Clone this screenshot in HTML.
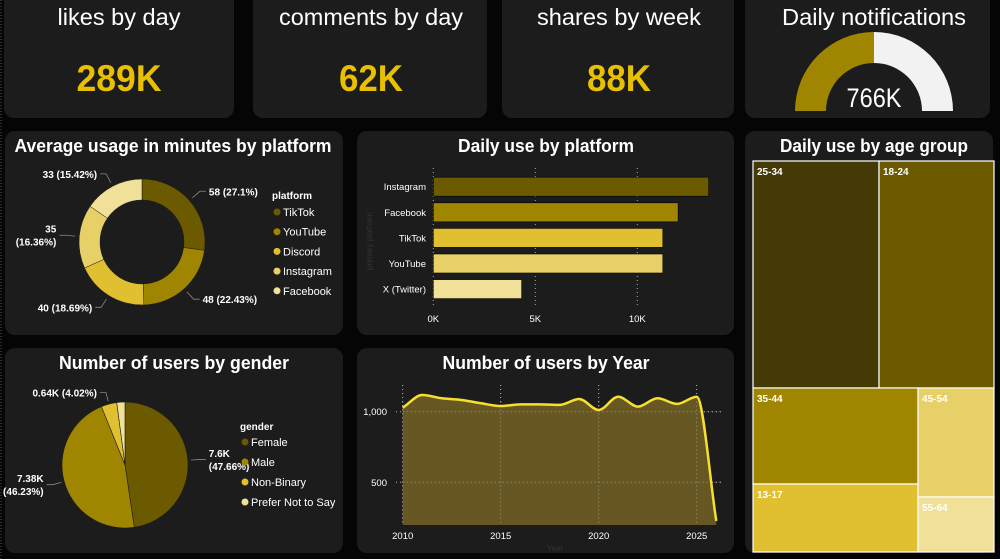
<!DOCTYPE html>
<html><head><meta charset="utf-8"><style>
body{margin:0;background:#050505;}
svg{display:block;font-family:"Liberation Sans",sans-serif;}
</style></head><body>
<svg id="s" width="1000" height="559" viewBox="0 0 1000 559">
<rect width="1000" height="559" fill="#050505"/>
<line x1="1" y1="0" x2="1" y2="559" stroke="#555" stroke-dasharray="1,2"/>
<g>
<rect x="4" y="-10" width="230" height="128" rx="10" fill="#1c1c1c"/>
<text x="119" y="25" fill="#fff" font-size="23" text-anchor="middle" textLength="123" lengthAdjust="spacingAndGlyphs">likes by day</text>
<text x="119" y="91" fill="#e8c000" font-size="37" font-weight="bold" text-anchor="middle" textLength="85" lengthAdjust="spacingAndGlyphs">289K</text></g>
<g>
<rect x="253" y="-10" width="234" height="128" rx="10" fill="#1c1c1c"/>
<text x="371" y="25" fill="#fff" font-size="23" text-anchor="middle" textLength="184" lengthAdjust="spacingAndGlyphs">comments by day</text>
<text x="371" y="91" fill="#e8c000" font-size="37" font-weight="bold" text-anchor="middle" textLength="64" lengthAdjust="spacingAndGlyphs">62K</text></g>
<g>
<rect x="502" y="-10" width="232" height="128" rx="10" fill="#1c1c1c"/>
<text x="619" y="25" fill="#fff" font-size="23" text-anchor="middle" textLength="164" lengthAdjust="spacingAndGlyphs">shares by week</text>
<text x="619" y="91" fill="#e8c000" font-size="37" font-weight="bold" text-anchor="middle" textLength="64" lengthAdjust="spacingAndGlyphs">88K</text></g>
<g>
<rect x="745" y="-10" width="245" height="128" rx="10" fill="#1c1c1c"/>
<text x="874" y="25" fill="#fff" font-size="23" text-anchor="middle" textLength="184" lengthAdjust="spacingAndGlyphs">Daily notifications</text>
<g id="gauge"></g>
<text x="874" y="107" fill="#fff" font-size="27" text-anchor="middle" textLength="55" lengthAdjust="spacingAndGlyphs">766K</text></g>

<rect x="5" y="131" width="338" height="204" rx="10" fill="#1c1c1c"/>
<text x="173" y="152" fill="#fff" font-size="18" font-weight="bold" text-anchor="middle" textLength="317" lengthAdjust="spacingAndGlyphs">Average usage in minutes by platform</text>
<g id="donut"></g>
<rect x="357" y="131" width="377" height="204" rx="10" fill="#1c1c1c"/>
<text x="546" y="152" fill="#fff" font-size="18" font-weight="bold" text-anchor="middle" textLength="176" lengthAdjust="spacingAndGlyphs">Daily use by platform</text>
<g id="bars"></g>
<rect x="745" y="131" width="248" height="422" rx="10" fill="#1c1c1c"/>
<text x="874" y="152" fill="#fff" font-size="18" font-weight="bold" text-anchor="middle" textLength="188" lengthAdjust="spacingAndGlyphs">Daily use by age group</text>
<g id="tree"></g>
<rect x="5" y="348" width="338" height="205" rx="10" fill="#1c1c1c"/>
<text x="174" y="369" fill="#fff" font-size="18" font-weight="bold" text-anchor="middle" textLength="230" lengthAdjust="spacingAndGlyphs">Number of users by gender</text>
<g id="pie"></g>
<rect x="357" y="348" width="377" height="205" rx="10" fill="#1c1c1c"/>
<text x="546" y="369" fill="#fff" font-size="18" font-weight="bold" text-anchor="middle" textLength="207" lengthAdjust="spacingAndGlyphs">Number of users by Year</text>
<g id="line"></g>
</svg>
<script>
const gaugeValue = 766, gaugeMax = 1532;
const platforms = ["TikTok","YouTube","Discord","Instagram","Facebook"];
const usageMinutes = [58,48,40,35,33];
const usageLabels = ["58 (27.1%)","48 (22.43%)","40 (18.69%)","35|(16.36%)","33 (15.42%)"];
const barCats = ["Instagram","Facebook","TikTok","YouTube","X (Twitter)"];
const barValues = [13500,12000,11250,11250,4330];
const barTicks = [0,5000,10000];
const barTickLabels = ["0K","5K","10K"];
const ageGroups = ["25-34","18-24","35-44","13-17","45-54","55-64"];
const ageValues = [28600,26100,15840,11220,8280,4180];
const genders = ["Female","Male","Non-Binary","Prefer Not to Say"];
const genderValues = [7600,7380,640,333];
const genderLabels = ["7.6K|(47.66%)","7.38K|(46.23%)","0.64K (4.02%)",""];
const years = [2010,2011,2012,2013,2014,2015,2016,2017,2018,2019,2020,2021,2022,2023,2024,2025,2026];
const users = [1028,1118,1095,1083,1060,1040,1052,1052,1048,1090,1012,1106,1036,1095,1055,1106,226];
const yTicks = [500,1000];
const xTicks = [2010,2015,2020,2025];

const NS="http://www.w3.org/2000/svg";
function mk(p,t,a,txt){const e=document.createElementNS(NS,t);for(const k in a)e.setAttribute(k,a[k]);if(txt!==undefined)e.textContent=txt;p.appendChild(e);return e;}
const pal5=["#6b5a00","#a08600","#e0c030","#e8d068","#f0e098"];
function arcPath(cx,cy,r0,r1,a0,a1){const p=(r,a)=>[cx+r*Math.sin(a),cy-r*Math.cos(a)];const L=(a1-a0)>Math.PI?1:0;
const [x0,y0]=p(r1,a0),[x1,y1]=p(r1,a1),[x2,y2]=p(r0,a1),[x3,y3]=p(r0,a0);
if(r0===0)return `M${cx},${cy}L${x0},${y0}A${r1},${r1} 0 ${L} 1 ${x1},${y1}Z`;
return `M${x0},${y0}A${r1},${r1} 0 ${L} 1 ${x1},${y1}L${x2},${y2}A${r0},${r0} 0 ${L} 0 ${x3},${y3}Z`;}

// gauge
{const g=document.getElementById('gauge');const cx=874,cy=111,ri=48,ro=79;
const f=gaugeValue/gaugeMax;
const a=mk(g,'path',{d:arcPath(cx,cy,ri,ro,-Math.PI/2,-Math.PI/2+Math.PI*f),fill:"#a08600"});

const b=mk(g,'path',{d:arcPath(cx,cy,ri,ro,-Math.PI/2+Math.PI*f,Math.PI/2),fill:"#f2f2f2"});
}

function labelText(g,x,y,s,anchor){const parts=s.split('|');parts.forEach((t,i)=>{const e=mk(g,'text',{x:x,y:y+i*13,fill:"#fff","font-size":"10","font-weight":"bold","text-anchor":anchor},t);});}

// donut
{const g=document.getElementById('donut');const cx=142,cy=242,ro=63,ri=42;const tot=usageMinutes.reduce((a,b)=>a+b,0);let a=0;
usageMinutes.forEach((v,i)=>{const a1=a+v/tot*2*Math.PI;const e=mk(g,'path',{d:arcPath(cx,cy,ri,ro,a,a1),fill:pal5[i],stroke:"#1c1c1c","stroke-width":"0.5"});

const m=(a+a1)/2;const sx=cx+(ro+4)*Math.sin(m),sy=cy-(ro+4)*Math.cos(m);const ex=cx+(ro+14)*Math.sin(m),ey=cy-(ro+14)*Math.cos(m);const right=Math.sin(m)>0;
mk(g,'polyline',{points:`${sx},${sy} ${ex},${ey} ${ex+(right?6:-6)},${ey}`,fill:"none",stroke:"#888","stroke-width":"0.8"});
const nl=usageLabels[i].split('|').length;labelText(g,ex+(right?9:-9),ey+4-(nl-1)*6.5,usageLabels[i],right?"start":"end");a=a1;});
mk(g,'text',{x:272,y:199,fill:"#fff","font-size":"10","font-weight":"bold"},"platform");
platforms.forEach((p,i)=>{const y=212+i*19.7;const c=mk(g,'circle',{cx:277,cy:y,r:3.5,fill:pal5[i]});
const t=mk(g,'text',{x:283,y:y+4,fill:"#fff","font-size":"11"},p);});}

// bars
{const g=document.getElementById('bars');const x0=433.3,k=102/5000;const y0=186.7,step=25.6,h=19;
barTicks.forEach((t,i)=>{const x=x0+t*k;mk(g,'line',{x1:x,y1:168,x2:x,y2:306,stroke:"#aaa","stroke-dasharray":"1,3"});
const e=mk(g,'text',{x:x,y:322,fill:"#fff","font-size":"9.5","text-anchor":"middle"},barTickLabels[i]);});
const bc=["#6b5a00","#a08600","#e0c030","#e8d068","#f0e098"];
barValues.forEach((v,i)=>{const y=y0+i*step;const r=mk(g,'rect',{x:x0,y:y-h/2,width:v*k,height:h,fill:bc[i],stroke:"#000","stroke-width":"0.6"});

const t=mk(g,'text',{x:426,y:y+3.5,fill:"#fff","font-size":"9.5","text-anchor":"end"},barCats[i]);});
mk(g,'text',{x:0,y:0,fill:"#333","font-size":"8",transform:"translate(372,270) rotate(-90)"},"primary platform");}

// treemap
{const g=document.getElementById('tree');const X=753,Y=161,W=241,H=391;const tot=ageValues.reduce((a,b)=>a+b,0);
const top=ageValues[0]+ageValues[1];const th=H*top/tot;const rects=[];
const w0=W*ageValues[0]/top;rects.push([X,Y,w0,th],[X+w0,Y,W-w0,th]);
const bl=ageValues[2]+ageValues[3],br=ageValues[4]+ageValues[5];const bh=H-th;const lw=W*bl/(bl+br);
const h2=bh*ageValues[2]/bl;rects.push([X,Y+th,lw,h2],[X,Y+th+h2,lw,bh-h2]);
const h4=bh*ageValues[4]/br;rects.push([X+lw,Y+th,W-lw,h4],[X+lw,Y+th+h4,W-lw,bh-h4]);
const tc=["#433a05","#6b5a00","#a08600","#e0c030","#e8d068","#f0e098"];
rects.forEach((r,i)=>{const e=mk(g,'rect',{x:r[0],y:r[1],width:r[2],height:r[3],fill:tc[i],stroke:"#fff","stroke-width":"1.2"});

const t=mk(g,'text',{x:r[0]+4,y:r[1]+14,fill:"#fff","font-size":"10","font-weight":"bold"},ageGroups[i]);});}

// pie
{const g=document.getElementById('pie');const cx=125,cy=465,r=63;const tot=genderValues.reduce((a,b)=>a+b,0);let a=0;
genderValues.forEach((v,i)=>{const a1=a+v/tot*2*Math.PI;const e=mk(g,'path',{d:arcPath(cx,cy,0,r,a,a1),fill:[pal5[0],pal5[1],pal5[2],pal5[4]][i],stroke:"#1c1c1c","stroke-width":"0.6"});

if(genderLabels[i]){const m=(a+a1)/2;const sx=cx+(r+3)*Math.sin(m),sy=cy-(r+3)*Math.cos(m);const ex=cx+(r+12)*Math.sin(m),ey=cy-(r+12)*Math.cos(m);const right=Math.sin(m)>0;
mk(g,'polyline',{points:`${sx},${sy} ${ex},${ey} ${ex+(right?6:-6)},${ey}`,fill:"none",stroke:"#888","stroke-width":"0.8"});
const nl=genderLabels[i].split('|').length;labelText(g,ex+(right?9:-9),ey+4-(nl-1)*6.5,genderLabels[i],right?"start":"end");}a=a1;});
mk(g,'text',{x:240,y:430,fill:"#fff","font-size":"10","font-weight":"bold"},"gender");
genders.forEach((p,i)=>{const y=442+i*20;const c=mk(g,'circle',{cx:245,cy:y,r:3.5,fill:[pal5[0],pal5[1],pal5[2],pal5[4]][i]});
const t=mk(g,'text',{x:251,y:y+4,fill:"#fff","font-size":"11"},p);});}

// line
{const g=document.getElementById('line');const px=y=>402.7+(y-2010)*19.6;const py=v=>411.7-(v-1000)*0.1412;const bottom=525;
xTicks.forEach(t=>{mk(g,'line',{x1:px(t),y1:385,x2:px(t),y2:bottom,stroke:"#bbb","stroke-dasharray":"1,3"});
const e=mk(g,'text',{x:px(t),y:539,fill:"#fff","font-size":"9.5","text-anchor":"middle"},t);});
yTicks.forEach(t=>{mk(g,'line',{x1:396,y1:py(t),x2:722,y2:py(t),stroke:"#bbb","stroke-dasharray":"1,3"});
const e=mk(g,'text',{x:387,y:py(t)+3.5,fill:"#fff","font-size":"9.5","text-anchor":"end"},t.toLocaleString('en-US'));});
const P=years.map((y,i)=>[px(y),py(users[i])]);const n=P.length;
// monotone cubic
const dx=[],sl=[];for(let i=0;i<n-1;i++){dx.push(P[i+1][0]-P[i][0]);sl.push((P[i+1][1]-P[i][1])/dx[i]);}
const m=[sl[0]];for(let i=1;i<n-1;i++){m.push(sl[i-1]*sl[i]<=0?0:(sl[i-1]+sl[i])/2);}m.push(sl[n-2]);
for(let i=0;i<n-1;i++){if(sl[i]===0){m[i]=m[i+1]=0;continue;}const a=m[i]/sl[i],b=m[i+1]/sl[i],s=a*a+b*b;if(s>9){const t=3/Math.sqrt(s);m[i]=t*a*sl[i];m[i+1]=t*b*sl[i];}}
let d=`M${P[0][0]},${P[0][1]}`;for(let i=0;i<n-1;i++){const h=dx[i]/3;d+=`C${P[i][0]+h},${P[i][1]+m[i]*h} ${P[i+1][0]-h},${P[i+1][1]-m[i+1]*h} ${P[i+1][0]},${P[i+1][1]}`;}
const ar=mk(g,'path',{d:d+`L${P[n-1][0]},${bottom}L${P[0][0]},${bottom}Z`,fill:"#6b5c24","fill-opacity":"0.95"});

xTicks.forEach(t=>mk(g,'line',{x1:px(t),y1:py(1000)-10,x2:px(t),y2:bottom,stroke:"#bbb","stroke-dasharray":"1,3","stroke-opacity":"0.6"}));
yTicks.forEach(t=>mk(g,'line',{x1:px(2010),y1:py(t),x2:722,y2:py(t),stroke:"#bbb","stroke-dasharray":"1,3","stroke-opacity":"0.6"}));
const ln=mk(g,'path',{d:d,fill:"none",stroke:"#f5e030","stroke-width":"2.5"});

mk(g,'text',{x:555,y:551,fill:"#333","font-size":"8","text-anchor":"middle"},"Year");}
</script>
</body></html>
